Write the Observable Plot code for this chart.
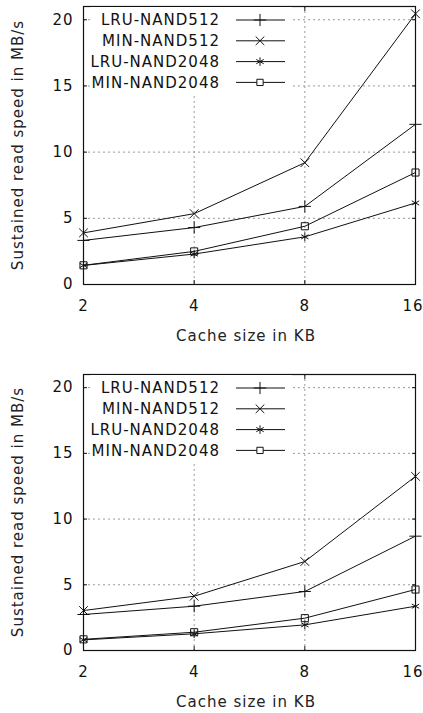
<!DOCTYPE html>
<html><head><meta charset="utf-8">
<script src="https://cdn.jsdelivr.net/npm/d3@7"></script>
<script src="https://cdn.jsdelivr.net/npm/@observablehq/plot@0.6"></script>
<style>
body{margin:0;background:#fff;}
#wrap{width:423px;}
svg{display:block;}
</style></head><body><div id="wrap"></div>
<script>
// Data
const cacheSizes = [2, 4, 8, 16];
const seriesNames = ["LRU-NAND512", "MIN-NAND512", "LRU-NAND2048", "MIN-NAND2048"];
const seriesSymbols = ["plus", "times", "asterisk", "square"];
const xTicks = [2, 4, 8, 16];
const yTicks = [0, 5, 10, 15, 20];

// top chart
const topLRU512 = [3.33, 4.3, 5.9, 12.1];
const topMIN512 = [3.9, 5.35, 9.2, 20.45];
const topLRU2048 = [1.44, 2.3, 3.6, 6.16];
const topMIN2048 = [1.45, 2.5, 4.4, 8.46];
// bottom chart
const botLRU512 = [2.74, 3.37, 4.49, 8.7];
const botMIN512 = [3.04, 4.13, 6.77, 13.25];
const botLRU2048 = [0.81, 1.27, 1.95, 3.37];
const botMIN2048 = [0.85, 1.39, 2.46, 4.64];

const xLabel = "Cache size in KB";
const yLabel = "Sustained read speed in MB/s";

const FONT = "DejaVu Sans";
const FS = 15;

function table(seriesArrays) {
  const rows = [];
  seriesArrays.forEach((vals, i) => {
    vals.forEach((v, j) => rows.push({series: seriesNames[i], symbol: seriesSymbols[i], x: cacheSizes[j], y: v}));
  });
  return rows;
}

function chart(seriesArrays, {height, marginTop, marginBottom}) {
  const data = table(seriesArrays);
  const marginLeft = 83, marginRight = 8;
  const lastX = xTicks[xTicks.length - 1];
  const svg = Plot.plot({
    width: 423,
    height,
    marginLeft, marginRight, marginTop, marginBottom,
    style: {fontFamily: FONT, fontSize: FS + "px", color: "#111", background: "#fff", letterSpacing: "1px", overflow: "visible"},
    x: {type: "log", base: 2, domain: [2, 16]},
    y: {domain: [0, 21]},
    marks: [
      Plot.gridY([5, 10, 15, 20], {stroke: "#999", strokeOpacity: 1, strokeDasharray: "2,3"}),
      Plot.gridX([4, 8], {stroke: "#999", strokeOpacity: 1, strokeDasharray: "2,3"}),
      Plot.axisY(yTicks, {anchor: "left", tickSize: 0, tickPadding: 10, label: null, fill: "#111"}),
      Plot.axisY(yTicks, {anchor: "left", tickSize: -4, text: null, label: null, stroke: "#111"}),
      Plot.axisY(yTicks, {anchor: "right", tickSize: -4, text: null, label: null, stroke: "#111"}),
      Plot.axisX(xTicks.filter(d => d !== lastX), {anchor: "bottom", tickSize: 0, tickPadding: 16, label: null, tickFormat: d => String(d), fill: "#111"}),
      Plot.axisX([lastX], {anchor: "bottom", tickSize: 0, tickPadding: 16, label: null, tickFormat: d => String(d), fill: "#111", textAnchor: "end", dx: 8, style: {letterSpacing: "0px"}}),
      Plot.axisX(xTicks, {anchor: "bottom", tickSize: -4, text: null, label: null, stroke: "#111"}),
      Plot.axisX(xTicks, {anchor: "top", tickSize: -4, text: null, label: null, stroke: "#111"}),
      Plot.frame({stroke: "#111", strokeWidth: 1.2}),
      Plot.line(data, {x: "x", y: "y", z: "series", stroke: "#111", strokeWidth: 1}),
      Plot.dot(data, {x: "x", y: "y", symbol: "symbol", r: 4, stroke: "#111", strokeWidth: 1, fill: d => d.symbol === "asterisk" ? "#111" : "none"})
    ]
  });
  const s = d3.select(svg);
  const W = 423;
  const plotH = height - marginTop - marginBottom;
  // y-axis label
  s.append("text")
    .attr("transform", `translate(18,${marginTop + plotH / 2}) rotate(-90)`)
    .attr("text-anchor", "middle").attr("dy", "0.35em")
    .attr("font-family", FONT).attr("font-size", FS).attr("letter-spacing", "1px").attr("fill", "#222")
    .text(yLabel);
  // x-axis label
  s.append("text")
    .attr("x", marginLeft + (W - marginLeft - marginRight) / 2 - 3)
    .attr("y", marginTop + plotH + 52)
    .attr("text-anchor", "middle").attr("dy", "0.35em")
    .attr("font-family", FONT).attr("font-size", FS).attr("letter-spacing", "1px").attr("fill", "#222")
    .text(xLabel);
  // legend (opaque key box)
  const lg = s.append("g");
  lg.append("rect").attr("x", 90).attr("y", marginTop + 1).attr("width", 202).attr("height", 87).attr("fill", "#fff");
  const symMap = {plus: d3.symbolPlus, times: d3.symbolTimes, asterisk: d3.symbolAsterisk, square: d3.symbolSquare2};
  seriesNames.forEach((name, i) => {
    const yy = marginTop + 14 + i * 20.8;
    lg.append("text").attr("x", 220).attr("y", yy).attr("dy", "0.35em")
      .attr("text-anchor", "end").attr("font-family", FONT).attr("font-size", FS)
      .attr("letter-spacing", "1px").attr("fill", "#111").text(name);
    lg.append("line").attr("x1", 236).attr("x2", 285).attr("y1", yy).attr("y2", yy)
      .attr("stroke", "#111").attr("stroke-width", 1);
    const sym = seriesSymbols[i];
    lg.append("path").attr("transform", `translate(260,${yy})`)
      .attr("d", d3.symbol(symMap[sym], Math.PI * 16)())
      .attr("fill", sym === "asterisk" ? "#111" : (sym === "square" ? "#fff" : "none"))
      .attr("stroke", "#111").attr("stroke-width", 1);
  });
  return svg;
}

const wrap = document.getElementById("wrap");
wrap.appendChild(chart([topLRU512, topMIN512, topLRU2048, topMIN2048], {height: 355, marginTop: 6, marginBottom: 71}));
wrap.appendChild(chart([botLRU512, botMIN512, botLRU2048, botMIN2048], {height: 358, marginTop: 19, marginBottom: 63}));
</script>
</body></html>
